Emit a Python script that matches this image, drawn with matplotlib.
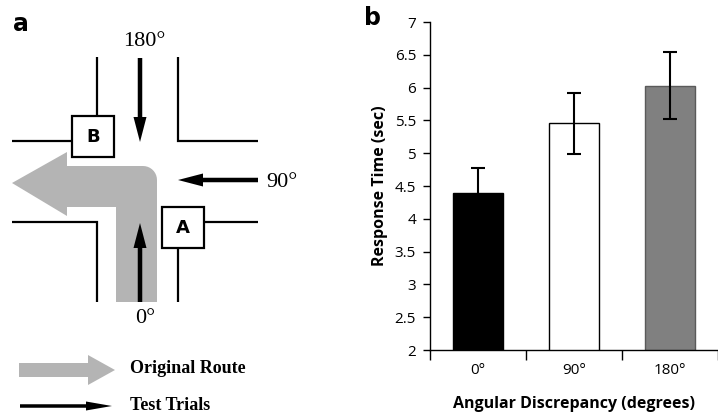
import numpy as np
import matplotlib
matplotlib.use("Agg")
import matplotlib.pyplot as plt
from matplotlib.patches import Polygon, Rectangle, FancyArrow

# panel b data
conditions = ['0°', '90°', '180°']
response_time = [4.40, 5.455, 6.03]
response_err = [0.37, 0.46, 0.51]
bar_colors = ['black', 'white', '#808080']
edge_colors = ['black', 'black', '#5a5a5a']
yticks = [2, 2.5, 3, 3.5, 4, 4.5, 5, 5.5, 6, 6.5, 7]

W, H = 718, 419
fig = plt.figure(figsize=(W / 100, H / 100), dpi=100)

# ---------- panel a: route diagram, drawn in pixel units ----------
ax = fig.add_axes([0, 0, 360 / W, 1])
ax.set_xlim(0, 360)
ax.set_ylim(H, 0)
ax.axis('off')

lw = 1.6
road = dict(color='black', lw=lw, solid_capstyle='butt', solid_joinstyle='miter')
ax.plot([97, 97], [57, 116], **road)
ax.plot([178, 178, 258], [57, 141, 141], **road)
ax.plot([12, 72], [141, 141], **road)
ax.plot([12, 97, 97], [222, 222, 302], **road)
ax.plot([204, 258], [222, 222], **road)
ax.plot([178, 178], [248, 302], **road)

for (x0, y0, lab) in [(72, 116, 'B'), (162, 207, 'A')]:
    ax.add_patch(Rectangle((x0, y0), 42, 41, fc='white', ec='black', lw=lw, zorder=3))
    ax.text(x0 + 21, y0 + 21, lab, ha='center', va='center', fontsize=13,
            fontweight='bold', family='DejaVu Sans', zorder=4)

# original route (grey L-shaped arrow with rounded corner)
r = 14
ang = np.linspace(np.pi / 2, 0, 10)
corner = np.column_stack([157 - r + r * np.cos(ang), 166 + r - r * np.sin(ang)])
pts = np.vstack([[[116, 302], [116, 207], [67, 207], [67, 216], [12, 183],
                  [67, 152], [67, 166]], corner, [[157, 302]]])
ax.add_patch(Polygon(pts, closed=True, fc='#b4b4b4', ec='none', zorder=1))

# test-trial arrows
ak = dict(width=4.5, head_width=13, head_length=25, length_includes_head=True,
          fc='black', ec='none', zorder=5)
ax.add_patch(FancyArrow(140, 58, 0, 84, **ak))
ax.add_patch(FancyArrow(258, 180, -80, 0, **ak))
ax.add_patch(FancyArrow(140, 302, 0, -79, **ak))

serif = 'Liberation Serif'
ax.text(144, 42, '180°', ha='center', va='center', fontsize=16, family=serif)
ax.text(266, 182, '90°', ha='left', va='center', fontsize=16, family=serif)
ax.text(145, 318, '0°', ha='center', va='center', fontsize=16, family=serif)

# legend
ax.add_patch(FancyArrow(19, 370, 96, 0, width=14, head_width=30, head_length=27,
                        length_includes_head=True, fc='#b4b4b4', ec='none'))
ax.add_patch(FancyArrow(20, 406, 92, 0, width=3.5, head_width=9, head_length=26,
                        length_includes_head=True, fc='black', ec='none'))
ax.text(130, 368, 'Original Route', ha='left', va='center', fontsize=13,
        fontweight='bold', family=serif)
ax.text(130, 405, 'Test Trials', ha='left', va='center', fontsize=13,
        fontweight='bold', family=serif)
ax.text(13, 24, 'a', ha='left', va='center', fontsize=17, fontweight='bold',
        family='DejaVu Sans')

# ---------- panel b: bar chart ----------
bx = fig.add_axes([430 / W, (H - 350) / H, 288 / W, 328 / H])
x = np.arange(len(conditions))
bx.bar(x, response_time, width=0.52, color=bar_colors, edgecolor=edge_colors,
       linewidth=1, zorder=2)
bx.errorbar(x, response_time, yerr=response_err, fmt='none', ecolor='black',
            elinewidth=1.5, capsize=5, capthick=1.5, zorder=3)
bx.set_xlim(-0.5, 2.5)
bx.set_ylim(2, 7)
bx.set_yticks(yticks)
bx.set_yticklabels([f'{t:g}' for t in yticks])
bx.set_xticks(x)
bx.set_xticklabels(conditions)
bx.set_xticks([-0.5, 0.5, 1.5, 2.5], minor=True)
bx.tick_params(axis='x', which='major', length=0, pad=9)
bx.tick_params(axis='x', which='minor', length=7, width=1, direction='out')
bx.tick_params(axis='y', length=5, width=1, direction='out', pad=5)
for lab in bx.get_xticklabels() + bx.get_yticklabels():
    lab.set_family('Open Sans')
    lab.set_fontsize(11)
for s in ['top', 'right']:
    bx.spines[s].set_visible(False)
bx.spines['left'].set_linewidth(1)
bx.spines['bottom'].set_linewidth(1)
bx.set_ylabel('Response Time (sec)', fontsize=11.5, fontweight='bold',
              family='Open Sans', labelpad=5)
bx.set_xlabel('Angular Discrepancy (degrees)', fontsize=11.5, fontweight='bold',
              family='Open Sans', labelpad=13)
fig.text(364 / W, 1 - 18 / H, 'b', ha='left', va='center', fontsize=17,
         fontweight='bold', family='DejaVu Sans')

fig.savefig('out.png', dpi=100)
